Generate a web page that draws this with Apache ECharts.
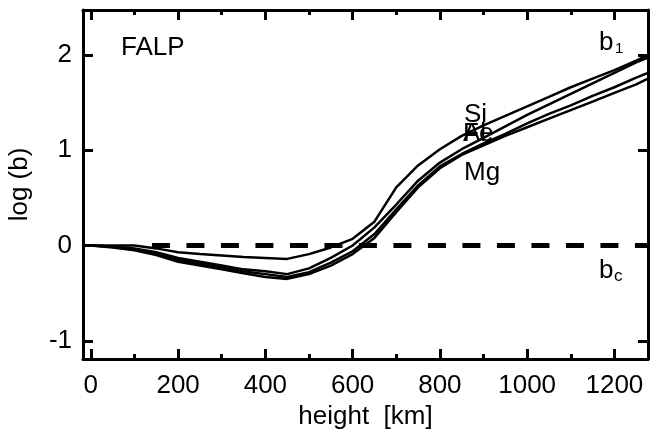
<!DOCTYPE html>
<html>
<head>
<meta charset="utf-8">
<script src="https://cdn.jsdelivr.net/npm/echarts@6/dist/echarts.min.js"></script>
<style>
html,body{margin:0;padding:0;background:#fff;}
#chart{width:651px;height:429px;}
</style>
</head>
<body>
<div id="chart"></div>
<script>
// ---- data ----
const heights = [0, 50, 100, 150, 200, 250, 300, 350, 400, 450, 500, 550, 600, 650, 700, 750, 800, 850, 900, 950, 1000, 1050, 1100, 1150, 1200, 1250, 1277];
const siValues = [0, 0, 0, -0.03, -0.07, -0.09, -0.105, -0.12, -0.13, -0.14, -0.09, -0.02, 0.07, 0.25, 0.61, 0.84, 1.01, 1.15, 1.26, 1.36, 1.46, 1.56, 1.66, 1.75, 1.84, 1.94, 2.00];
const alValues = [0, -0.01, -0.03, -0.07, -0.13, -0.17, -0.21, -0.25, -0.27, -0.30, -0.24, -0.13, 0.00, 0.19, 0.43, 0.68, 0.87, 1.01, 1.13, 1.25, 1.37, 1.48, 1.59, 1.70, 1.81, 1.92, 1.97];
const feValues = [0, -0.01, -0.04, -0.09, -0.15, -0.19, -0.23, -0.27, -0.30, -0.33, -0.28, -0.18, -0.06, 0.12, 0.38, 0.63, 0.83, 0.96, 1.07, 1.17, 1.28, 1.38, 1.47, 1.57, 1.66, 1.76, 1.81];
const mgValues = [0, -0.02, -0.05, -0.10, -0.17, -0.21, -0.25, -0.29, -0.33, -0.35, -0.30, -0.21, -0.09, 0.08, 0.35, 0.61, 0.81, 0.95, 1.05, 1.15, 1.24, 1.33, 1.42, 1.51, 1.60, 1.69, 1.75];
const bcHeights = [140, 1277];
const bcValues = [0, 0];
const xMajorTicks = [0, 200, 400, 600, 800, 1000, 1200];
const xMinorTicks = [100, 300, 500, 700, 900, 1100];
const yMajorTicks = [-1, 0, 1, 2];
const xMin = -18, xMax = 1277, yMin = -1.19, yMax = 2.47;

const FONT = 'Liberation Sans, Arial, Helvetica, sans-serif';
const pair = (xs, ys) => xs.map((x, i) => [x, ys[i]]);

const chart = echarts.init(document.getElementById('chart'), null, {renderer: 'canvas'});

const axisLineStyle = {color: '#000', width: 3};
function xAxisDef(pos, ticks, len, showLine, showLabel, name) {
  return {
    type: 'value', position: pos, min: xMin, max: xMax,
    axisLine: {show: showLine, onZero: false, lineStyle: axisLineStyle},
    axisTick: {show: true, inside: true, length: len, customValues: ticks, lineStyle: {color: '#000', width: 3}},
    axisLabel: {show: showLabel, customValues: ticks, formatter: v => String(v), color: '#000', fontSize: 26, fontFamily: FONT, margin: 14},
    splitLine: {show: false},
    name: name || '', nameLocation: 'middle', nameGap: 42,
    nameTextStyle: {color: '#000', fontSize: 26, fontFamily: FONT}
  };
}
function yAxisDef(pos, showLabel, name) {
  return {
    type: 'value', position: pos, min: yMin, max: yMax,
    axisLine: {show: true, onZero: false, lineStyle: axisLineStyle},
    axisTick: {show: true, inside: true, length: 10, customValues: yMajorTicks, lineStyle: {color: '#000', width: 3}},
    axisLabel: {show: showLabel, customValues: yMajorTicks, formatter: v => String(v), color: '#000', fontSize: 26, fontFamily: FONT, margin: 11},
    splitLine: {show: false},
    name: name || '', nameLocation: 'middle', nameGap: 50, nameRotate: 90,
    nameTextStyle: {color: '#000', fontSize: 26, fontFamily: FONT}
  };
}

const lineSeries = (name, vals) => ({
  name: name, type: 'line', xAxisIndex: 0, yAxisIndex: 0,
  data: pair(heights, vals), symbol: 'none', showSymbol: false,
  lineStyle: {color: '#000', width: 2.5}, z: 3, animation: false
});

const option = {
  backgroundColor: '#fff',
  animation: false,
  grid: {left: 83, top: 10, width: 565, height: 349, containLabel: false, outerBoundsMode: 'none'},
  xAxis: [
    xAxisDef('bottom', xMajorTicks, 10, true, true, 'height  [km]'),
    xAxisDef('bottom', xMinorTicks, 5, false, false),
    xAxisDef('top', xMajorTicks, 10, true, false),
    xAxisDef('top', xMinorTicks, 5, false, false)
  ],
  yAxis: [
    yAxisDef('left', true, 'log (b)'),
    yAxisDef('right', false)
  ],
  series: [
    lineSeries('Si', siValues),
    lineSeries('Al', alValues),
    lineSeries('Fe', feValues),
    lineSeries('Mg', mgValues),
    {
      name: 'bc', type: 'line', xAxisIndex: 0, yAxisIndex: 0,
      data: pair(bcHeights, bcValues), symbol: 'none',
      lineStyle: {color: '#000', width: 5, type: [18, 16.5]}, z: 2
    }
  ],
  graphic: [
    {type: 'text', left: 121, top: 35, style: {text: 'FALP', font: '26px ' + FONT, fill: '#000'}},
    {type: 'text', left: 464, top: 102, style: {text: 'Si', font: '26px ' + FONT, fill: '#000'}},
    {type: 'text', left: 463, top: 121, style: {text: 'Al', font: '26px ' + FONT, fill: '#000'}},
    {type: 'text', left: 463, top: 121, style: {text: 'Fe', font: '26px ' + FONT, fill: '#000'}},
    {type: 'text', left: 464, top: 160, style: {text: 'Mg', font: '26px ' + FONT, fill: '#000'}},
    {type: 'text', left: 599, top: 30, style: {text: 'b', font: '26px ' + FONT, fill: '#000'}},
    {type: 'text', left: 615, top: 41, style: {text: '1', font: '15px ' + FONT, fill: '#000'}},
    {type: 'text', left: 599, top: 258, style: {text: 'b', font: '26px ' + FONT, fill: '#000'}},
    {type: 'text', left: 614, top: 268, style: {text: 'c', font: '17px ' + FONT, fill: '#000'}}
  ]
};
chart.setOption(option);
</script>
</body>
</html>
